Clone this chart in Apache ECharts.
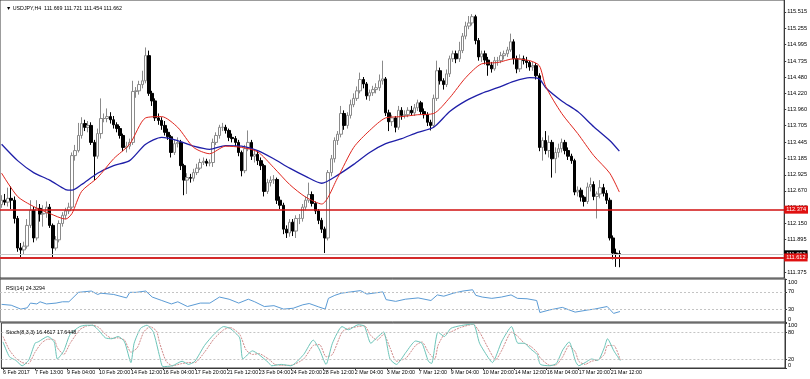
<!DOCTYPE html>
<html><head><meta charset="utf-8">
<script src="https://cdn.jsdelivr.net/npm/echarts@6/dist/echarts.min.js"></script>
<style>html,body{margin:0;padding:0;background:#fff}#c{width:810px;height:379px}</style>
</head><body><div id="c"></div>
<script>
const tickLabels = ['6 Feb 2017','7 Feb 13:00','9 Feb 04:00','10 Feb 20:00','14 Feb 12:00','16 Feb 04:00','17 Feb 20:00','21 Feb 12:00','23 Feb 04:00','24 Feb 20:00','28 Feb 12:00','2 Mar 04:00','3 Mar 20:00','7 Mar 12:00','9 Mar 04:00','10 Mar 20:00','14 Mar 12:00','16 Mar 04:00','17 Mar 20:00','21 Mar 12:00'];
const priceTicks = [115.515,115.255,114.995,114.735,114.480,114.220,113.960,113.705,113.445,113.185,112.925,112.670,112.410,112.150,111.895,111.375];

const opens = [112.45,112.52,112.49,112.55,112.52,112.23,111.76,111.73,111.79,112.12,
112.36,111.92,112.39,112.30,112.31,112.41,112.12,111.76,111.89,112.15,
112.28,112.35,112.41,113.23,113.31,113.55,113.74,113.68,113.71,113.44,
113.22,113.58,113.82,113.82,113.85,113.80,113.72,113.66,113.55,113.36,
113.38,113.44,114.25,114.26,114.36,114.42,114.82,114.22,114.10,113.83,
113.79,113.71,113.60,113.53,113.28,113.42,113.44,113.07,112.84,112.88,
112.87,112.96,113.03,113.12,113.14,113.11,113.12,113.44,113.55,113.68,
113.68,113.63,113.52,113.50,113.44,113.28,112.99,113.34,113.44,113.22,
113.25,113.15,113.07,112.66,112.80,112.84,112.85,112.52,112.44,112.06,
112.00,112.17,112.03,112.23,112.23,112.41,112.52,112.61,112.47,112.35,
112.20,112.06,111.92,112.96,113.18,113.47,113.57,113.90,113.71,113.87,
114.04,114.14,114.26,114.44,114.37,114.18,114.23,114.28,114.31,114.42,
114.45,113.91,113.77,113.83,113.68,113.95,113.87,113.88,113.95,113.91,
113.99,114.07,113.93,113.88,113.76,113.71,114.14,114.58,114.42,114.36,
114.53,114.77,114.85,114.77,114.90,115.13,115.29,115.34,115.44,115.06,
114.80,114.85,114.75,114.67,114.61,114.74,114.74,114.82,114.85,114.91,
115.04,114.77,114.61,114.77,114.74,114.71,114.64,114.66,114.50,113.36,
113.47,113.31,113.44,113.18,113.28,113.34,113.44,113.31,113.22,113.15,
112.65,112.68,112.57,112.50,112.73,112.77,112.58,112.62,112.72,112.63,
112.52,111.92,111.68,111.669];
const closes = [112.52,112.49,112.55,112.52,112.23,111.76,111.73,111.79,112.12,112.36,
111.92,112.39,112.30,112.31,112.41,112.12,111.76,111.89,112.15,112.28,
112.35,112.41,113.23,113.31,113.55,113.74,113.68,113.71,113.44,113.22,
113.58,113.82,113.82,113.85,113.80,113.72,113.66,113.55,113.36,113.38,
113.44,114.25,114.26,114.36,114.42,114.82,114.22,114.10,113.83,113.79,
113.71,113.60,113.53,113.28,113.42,113.44,113.07,112.84,112.88,112.87,
112.96,113.03,113.12,113.14,113.11,113.12,113.44,113.55,113.68,113.68,
113.63,113.52,113.50,113.44,113.28,112.99,113.34,113.44,113.22,113.25,
113.15,113.07,112.66,112.80,112.84,112.85,112.52,112.44,112.06,112.00,
112.17,112.03,112.23,112.23,112.41,112.52,112.61,112.47,112.35,112.20,
112.06,111.92,112.96,113.18,113.47,113.57,113.90,113.71,113.87,114.04,
114.14,114.26,114.44,114.37,114.18,114.23,114.28,114.31,114.42,114.45,
113.91,113.77,113.83,113.68,113.95,113.87,113.88,113.95,113.91,113.99,
114.07,113.93,113.88,113.76,113.71,114.14,114.58,114.42,114.36,114.53,
114.77,114.85,114.77,114.90,115.13,115.29,115.34,115.44,115.06,114.80,
114.85,114.75,114.67,114.61,114.74,114.74,114.82,114.85,114.91,115.04,
114.77,114.61,114.77,114.74,114.71,114.64,114.66,114.50,113.36,113.47,
113.31,113.44,113.18,113.28,113.34,113.44,113.31,113.22,113.15,112.65,
112.68,112.57,112.50,112.73,112.77,112.58,112.62,112.72,112.63,112.52,
111.92,111.68,111.669,111.662];
const lows = [112.40,112.44,112.42,112.38,112.15,111.70,111.60,111.66,111.75,112.08,
111.85,111.88,112.18,112.10,112.24,112.08,111.60,111.72,111.85,112.10,
112.22,112.30,112.38,113.15,113.28,113.50,113.62,113.60,113.40,112.84,
113.18,113.50,113.76,113.76,113.74,113.66,113.60,113.50,113.30,113.28,
113.33,113.40,114.15,114.20,114.30,114.38,114.18,114.02,113.78,113.72,
113.64,113.55,113.48,113.20,113.24,113.36,113.00,112.60,112.62,112.80,
112.82,112.92,113.00,113.08,113.06,113.06,113.05,113.40,113.50,113.62,
113.58,113.46,113.44,113.38,113.22,112.90,112.95,113.30,113.16,113.12,
113.08,113.00,112.58,112.62,112.74,112.78,112.46,112.38,111.98,111.92,
111.94,111.95,111.92,112.14,112.18,112.36,112.48,112.42,112.30,112.14,
112.00,111.68,111.88,112.90,113.12,113.40,113.52,113.64,113.66,113.82,
114.00,114.10,114.22,114.30,114.12,114.10,114.18,114.22,114.26,114.36,
113.86,113.62,113.70,113.60,113.64,113.80,113.82,113.84,113.86,113.86,
113.94,113.88,113.82,113.70,113.63,113.68,114.10,114.36,114.28,114.32,
114.48,114.72,114.70,114.72,114.86,115.08,115.24,115.30,115.00,114.74,
114.72,114.68,114.50,114.55,114.58,114.66,114.70,114.76,114.80,114.88,
114.68,114.54,114.56,114.68,114.62,114.58,114.58,114.44,113.30,113.15,
113.25,113.20,112.88,112.95,113.20,113.28,113.25,113.16,113.10,112.60,
112.58,112.50,112.42,112.46,112.66,112.52,112.23,112.55,112.58,112.46,
111.88,111.58,111.46,111.454];
const highs = [112.60,112.62,112.72,112.74,112.58,112.27,111.84,111.86,112.22,112.52,
112.42,112.52,112.46,112.44,112.50,112.46,112.15,111.95,112.20,112.33,
112.40,112.48,113.28,113.40,113.75,113.84,113.80,113.78,113.76,113.48,
113.66,114.14,113.90,113.98,113.92,113.86,113.76,113.70,113.58,113.45,
113.50,114.42,114.32,114.42,114.58,114.95,114.90,114.26,114.14,113.90,
113.84,113.78,113.66,113.56,113.48,113.52,113.48,113.10,112.95,112.94,
113.02,113.10,113.18,113.20,113.18,113.17,113.50,113.60,113.72,113.75,
113.72,113.66,113.58,113.54,113.48,113.31,113.40,113.63,113.48,113.32,
113.30,113.20,113.10,112.86,112.90,112.92,112.88,112.58,112.48,112.12,
112.22,112.22,112.28,112.30,112.46,112.58,112.80,112.66,112.50,112.38,
112.24,112.10,113.00,113.24,113.52,113.62,114.02,113.95,113.92,114.12,
114.22,114.33,114.55,114.48,114.40,114.28,114.34,114.38,114.52,114.74,
114.48,113.96,113.88,113.86,114.02,114.00,113.95,114.00,114.02,114.05,
114.12,114.10,113.98,113.92,113.80,114.20,114.74,114.63,114.46,114.60,
114.82,114.90,114.90,115.04,115.18,115.36,115.45,115.48,115.47,115.10,
114.90,114.90,114.80,114.72,114.80,114.80,114.88,114.90,114.96,115.17,
115.08,114.82,114.84,114.82,114.80,114.74,114.72,114.70,114.54,113.52,
113.62,113.55,113.48,113.36,113.42,113.50,113.48,113.36,113.26,113.18,
112.74,112.72,112.60,112.80,112.88,112.82,112.66,112.84,112.78,112.68,
112.56,111.96,111.75,111.721];

// moving averages, read at sample bars [barIndex, value]
const maIdx = [0,5,10,15,20,22,25,30,35,40,45,50,55,60,65,70,75,80,85,90,95,100,105,110,115,120,125,130,135,140,145,150,155,160,165,168,170,175,180,185,190,193];
const maRedVal = [112.95,112.58,112.42,112.31,112.22,112.31,112.66,112.88,113.18,113.41,113.83,113.85,113.68,113.36,113.26,113.38,113.36,113.29,113.04,112.77,112.57,112.46,112.88,113.36,113.63,113.83,113.85,113.88,113.90,114.15,114.47,114.69,114.71,114.77,114.74,114.66,114.33,113.90,113.58,113.23,112.95,112.65];
const maBlueVal = [113.41,113.15,112.96,112.84,112.69,112.68,112.77,112.95,113.07,113.15,113.41,113.52,113.47,113.38,113.33,113.39,113.38,113.31,113.18,113.03,112.90,112.79,112.92,113.09,113.28,113.42,113.50,113.60,113.68,113.93,114.10,114.22,114.31,114.41,114.47,114.45,114.31,114.10,113.93,113.69,113.47,113.30];

const rsiIdx = [0,3,6,8,9,11,12,14,17,19,21,24,28,30,31,35,39,40,42,45,47,50,53,55,58,62,65,68,71,74,77,79,82,85,88,91,94,96,99,101,102,104,106,109,112,114,117,119,120,123,126,130,134,136,138,141,144,147,148,150,153,156,159,161,164,167,168,171,175,179,183,185,189,191,193];
const rsiVal = [41,39,30,33,44,42,47,42,44,47,47,69,72,64,67,64,56,69,69,72,58,50,42,47,36,44,44,58,53,44,53,47,36,38,30,32,40,43,35,30,55,62,67,70,73,65,68,70,52,48,53,56,50,63,60,67,72,75,62,58,55,58,63,55,54,50,22,28,34,23,28,30,36,20,24.3294];

const stMainIdx = [0,2,4,6,8,10,11,14,16,17,19,21,24,26,28,30,32,34,36,38,40,41,43,45,47,49,50,53,56,58,60,63,66,69,71,74,75,78,80,83,84,87,90,94,97,99,101,103,106,108,111,113,115,117,119,121,123,126,129,131,133,134,136,138,140,143,147,149,152,153,156,159,161,163,165,167,168,171,173,175,177,179,180,182,184,186,188,189,191,193];
const stMainVal = [58,25,17,5,17,55,58,70,58,20,38,75,92,95,95,83,67,65,70,58,12,55,88,95,80,25,3,5,15,8,15,50,75,92,88,67,20,38,30,12,5,8,5,30,62,40,8,55,92,85,96,93,55,68,80,20,8,35,60,55,15,10,80,70,88,94,98,55,20,12,60,92,55,55,42,30,8,5,10,40,58,15,5,12,20,17,45,65,38,16.4617];
const stSigIdx = [0,2,4,6,8,10,12,14,16,17,19,21,24,26,28,30,32,34,36,38,40,42,44,46,48,49,51,53,56,58,60,63,66,69,71,74,76,78,80,83,85,87,90,94,97,99,101,103,106,108,111,113,115,117,119,121,123,126,129,131,133,135,136,138,140,143,147,149,152,154,156,159,161,163,165,167,168,171,173,175,177,179,180,182,184,186,188,189,191,193];
const stSigVal = [70,40,22,12,10,35,55,64,63,45,30,55,85,93,95,90,75,66,67,62,35,45,80,92,82,55,15,5,10,12,12,35,65,85,90,75,40,30,32,20,8,6,6,20,50,52,25,30,80,88,92,94,72,62,75,45,15,22,50,58,35,20,50,75,80,90,97,80,40,18,40,80,70,55,48,35,22,6,7,25,50,35,15,8,15,18,30,50,50,17.6448];

const TOTAL_SLOTS = 245;
const cats = Array.from({length: TOTAL_SLOTS}, (_, i) => String(i));
const pair = (idx, val) => idx.map((b, k) => [b, val[k]]);
const candleData = closes.map((c, i) => [opens[i], c, lows[i], highs[i]]);
const isTick = (n) => n % 10 === 0 && n / 10 < tickLabels.length;

const FONT = 'Liberation Sans';
const FS = 5.6;
const chart = echarts.init(document.getElementById('c'), null, {renderer: 'canvas'});

const gridBorder = {show: true, borderColor: '#3a3a3a', borderWidth: 1, backgroundColor: '#fff'};
const lvlLine = (vals) => ({
  silent: true, symbol: ['none','none'], animation: false,
  label: {show: false},
  lineStyle: {color: '#c4c4c4', type: [2,2], width: 1},
  data: vals.map(v => ({yAxis: v}))
});
const baseX = (gi, showLabels) => ({
  type: 'category', gridIndex: gi, data: cats, boundaryGap: true,
  axisLine: {show: showLabels, lineStyle: {color: '#3a3a3a'}},
  axisTick: showLabels ? {show: true, length: 2, interval: (i) => isTick(i), alignWithLabel: true, lineStyle: {color: '#3a3a3a'}} : {show: false},
  axisLabel: showLabels ? {
    show: true, interval: 0, align: 'left', margin: 2, hideOverlap: false,
    fontSize: 5.3, fontFamily: FONT, color: '#000',
    formatter: (v) => isTick(+v) ? tickLabels[+v / 10] : ''
  } : {show: false},
  splitLine: {show: false}
});

chart.setOption({
  animation: false,
  backgroundColor: '#fff',
  title: [
    {text: '▼ USDJPY,H4  111.669 111.721 111.454 111.662', left: 1, top: 1, textStyle: {fontSize: 5.3, fontWeight: 'normal', fontFamily: FONT, color: '#000'}},
    {text: 'RSI(14) 24.3294', left: 1, top: 281, textStyle: {fontSize: 5.3, fontWeight: 'normal', fontFamily: FONT, color: '#000'}},
    {text: 'Stoch(8,3,3) 16.4617 17.6448', left: 1, top: 325, textStyle: {fontSize: 5.3, fontWeight: 'normal', fontFamily: FONT, color: '#000'}}
  ],
  grid: [
    Object.assign({left: 0, top: -1, width: 785, height: 279}, gridBorder),
    Object.assign({left: 0, top: 279, width: 785, height: 43}, gridBorder),
    Object.assign({left: 0, top: 323, width: 785, height: 45}, gridBorder)
  ],
  xAxis: [baseX(0, false), baseX(1, false), baseX(2, true)],
  yAxis: [
    {type: 'value', gridIndex: 0, position: 'right', min: 111.283, max: 115.705, scale: true,
     axisLine: {show: true, lineStyle: {color: '#3a3a3a'}},
     axisTick: {show: true, length: 2, customValues: priceTicks, lineStyle: {color: '#3a3a3a'}},
     axisLabel: {show: true, customValues: priceTicks, margin: 3, fontSize: FS, fontFamily: FONT, color: '#000', formatter: v => v.toFixed(3)},
     splitLine: {show: false}},
    {type: 'value', gridIndex: 1, position: 'right', min: 0, max: 100,
     axisLine: {show: true, lineStyle: {color: '#3a3a3a'}},
     axisTick: {show: true, length: 2, customValues: [0,30,70,100], lineStyle: {color: '#3a3a3a'}},
     axisLabel: {show: true, customValues: [0,30,70,100], margin: 3, fontSize: FS, fontFamily: FONT, color: '#000',
       formatter: v => v === 100 ? '{t|100}' : (v === 0 ? '{b|0}' : String(v)),
       rich: {t: {fontSize: FS, fontFamily: FONT, padding: [7,0,0,0]}, b: {fontSize: FS, fontFamily: FONT, padding: [0,0,6,0]}}},
     splitLine: {show: false}},
    {type: 'value', gridIndex: 2, position: 'right', min: 0, max: 100,
     axisLine: {show: true, lineStyle: {color: '#3a3a3a'}},
     axisTick: {show: true, length: 2, customValues: [0,20,80,100], lineStyle: {color: '#3a3a3a'}},
     axisLabel: {show: true, customValues: [0,20,80,100], margin: 3, fontSize: FS, fontFamily: FONT, color: '#000',
       formatter: v => v === 100 ? '{t|100}' : (v === 0 ? '{b|0}' : String(v)),
       rich: {t: {fontSize: FS, fontFamily: FONT, padding: [5,0,0,0]}, b: {fontSize: FS, fontFamily: FONT, padding: [0,0,6,0]}}},
     splitLine: {show: false}}
  ],
  series: [
    {type: 'candlestick', xAxisIndex: 0, yAxisIndex: 0, data: candleData, barWidth: 3,
     itemStyle: {color: '#ffffff', color0: '#000000', borderColor: '#8a8a8a', borderColor0: '#000000', borderWidth: 1},
     markLine: {
       silent: true, symbol: ['none','none'], animation: false,
       data: [
         {yAxis: 111.662, lineStyle: {color: '#c8c8c8', width: 1, type: 'solid'},
          label: {show: true, position: 'end', distance: 0, formatter: '111.662', color: '#fff', backgroundColor: '#000', padding: [1,2,1,2], fontSize: FS, fontFamily: FONT}},
         {yAxis: 112.374, lineStyle: {color: '#d01010', width: 1.5, type: 'solid'},
          label: {show: true, position: 'end', distance: 0, formatter: '112.374', color: '#fff', backgroundColor: '#e01010', padding: [1,2,1,2], fontSize: FS, fontFamily: FONT}},
         {yAxis: 111.612, lineStyle: {color: '#d42a2a', width: 2, type: 'solid'},
          label: {show: true, position: 'end', distance: 0, formatter: '111.612', color: '#fff', backgroundColor: '#e01010', padding: [1,2,1,2], fontSize: FS, fontFamily: FONT}}
       ]
     }},
    {type: 'line', xAxisIndex: 0, yAxisIndex: 0, data: pair(maIdx, maBlueVal), showSymbol: false, smooth: 0.25,
     lineStyle: {color: '#1f1fa8', width: 1.3}},
    {type: 'line', xAxisIndex: 0, yAxisIndex: 0, data: pair(maIdx, maRedVal), showSymbol: false, smooth: 0.25,
     lineStyle: {color: '#e0261e', width: 1}},
    {type: 'line', xAxisIndex: 1, yAxisIndex: 1, data: pair(rsiIdx, rsiVal), showSymbol: false,
     lineStyle: {color: '#5b9bd5', width: 1}, markLine: lvlLine([30,70])},
    {type: 'line', xAxisIndex: 2, yAxisIndex: 2, data: pair(stSigIdx, stSigVal), showSymbol: false, smooth: 0.2,
     lineStyle: {color: '#d08a8a', width: 1, type: [2,1]}, markLine: lvlLine([20,80])},
    {type: 'line', xAxisIndex: 2, yAxisIndex: 2, data: pair(stMainIdx, stMainVal), showSymbol: false, smooth: 0.2,
     lineStyle: {color: '#6cc4b8', width: 1}}
  ]
});
</script></body></html>
